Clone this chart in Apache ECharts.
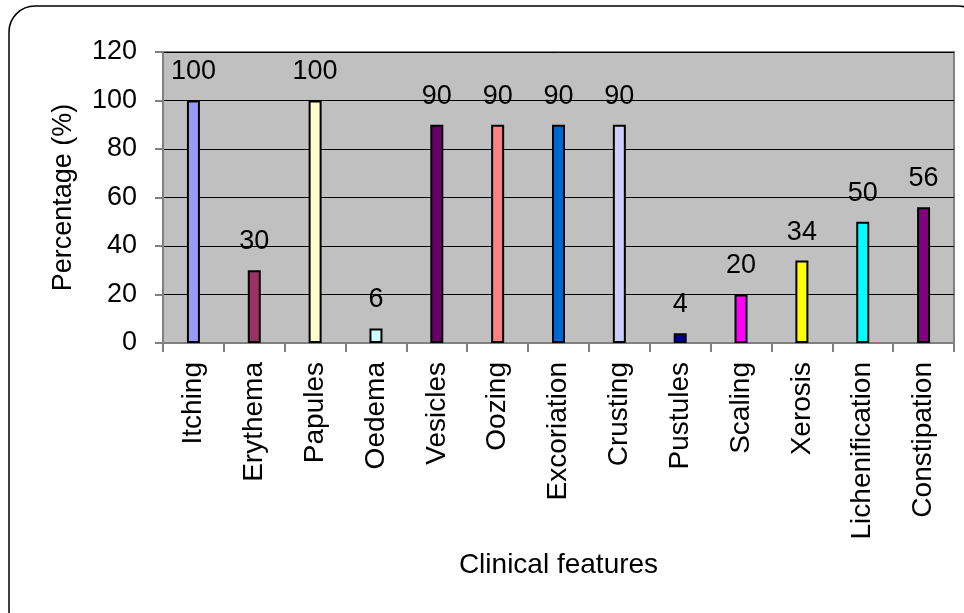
<!DOCTYPE html>
<html>
<head>
<meta charset="utf-8">
<script src="https://cdn.jsdelivr.net/npm/echarts@6/dist/echarts.min.js"></script>
<style>
html,body{margin:0;padding:0;background:#fff;}
#chart{width:964px;height:613px;}
</style>
</head>
<body>
<div id="chart"></div>
<script>
// Clinical features and the share of patients showing each one
const features = ['Itching','Erythema','Papules','Oedema','Vesicles','Oozing','Excoriation','Crusting','Pustules','Scaling','Xerosis','Lichenification','Constipation'];
const percentages = [100, 30, 100, 6, 90, 90, 90, 90, 4, 20, 34, 50, 56];
const barColors = ['#9999FF','#993366','#FFFFCC','#CCFFFF','#660066','#FF8080','#0066CC','#CCCCFF','#000080','#FF00FF','#FFFF00','#00FFFF','#800080'];

const FONT = 'Liberation Sans, Arial, sans-serif';
const SIZE = 27;
const chart = echarts.init(document.getElementById('chart'), null, {renderer: 'canvas'});

chart.setOption({
  animation: false,
  backgroundColor: '#fff',
  graphic: [{
    type: 'rect',
    z: -1,
    shape: {x: 9, y: 6, width: 975, height: 630, r: 26},
    style: {fill: 'none', stroke: '#000', lineWidth: 1.5}
  }],
  grid: {
    left: 163, right: 10, top: 52, bottom: 270,
    show: true,
    backgroundColor: '#C0C0C0',
    borderColor: '#808080',
    borderWidth: 2
  },
  xAxis: {
    type: 'category',
    data: features,
    name: 'Clinical features',
    nameLocation: 'middle',
    nameGap: 208,
    nameTextStyle: {fontFamily: FONT, fontSize: 28, color: '#000'},
    axisLine: {lineStyle: {color: '#808080', width: 2}},
    axisTick: {show: true, length: 9, lineStyle: {color: '#808080', width: 2}},
    axisLabel: {rotate: 90, margin: 19, fontFamily: FONT, fontSize: 28, color: '#000'}
  },
  yAxis: {
    type: 'value',
    min: 0, max: 120, interval: 20,
    name: 'Percentage (%)',
    nameLocation: 'middle',
    nameGap: 86,
    nameTextStyle: {fontFamily: FONT, fontSize: SIZE, color: '#000'},
    axisLine: {show: true, lineStyle: {color: '#808080', width: 2}},
    axisTick: {show: true, length: 8, lineStyle: {color: '#808080', width: 2}},
    axisLabel: {margin: 26, fontFamily: FONT, fontSize: SIZE, color: '#000'},
    splitLine: {show: true, lineStyle: {color: '#000', width: 1}}
  },
  series: [{
    type: 'bar',
    data: percentages.map((v, i) => ({value: v, itemStyle: {color: barColors[i]}})),
    barWidth: 13,
    itemStyle: {borderColor: '#000', borderWidth: 2},
    label: {
      show: true,
      position: 'top',
      distance: 15,
      fontFamily: FONT,
      fontSize: SIZE,
      color: '#000'
    }
  }]
});
</script>
</body>
</html>
